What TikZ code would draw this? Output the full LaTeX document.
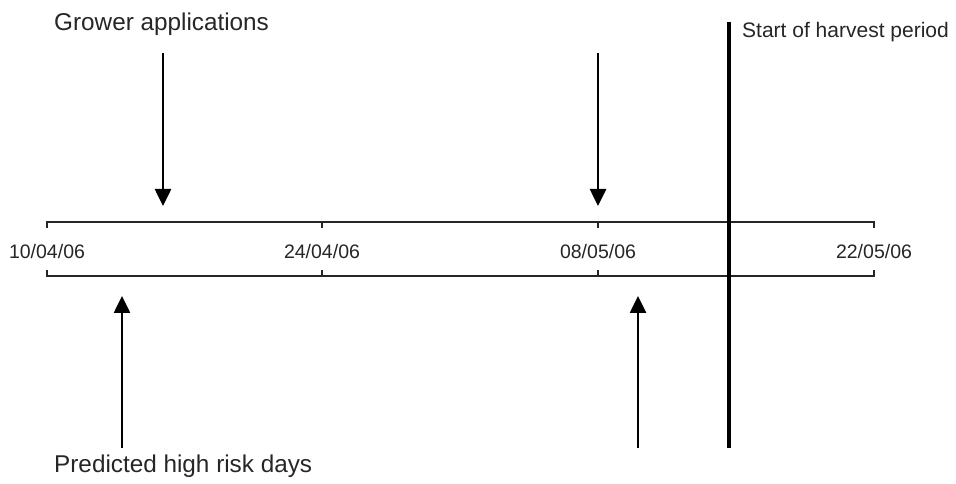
\documentclass[tikz,border=0pt]{standalone}
\usepackage{fontspec}
\setmainfont{Liberation Sans}
\usetikzlibrary{arrows.meta}
\begin{document}
\begin{tikzpicture}[x=1bp,y=-1bp,
  axis/.style={line width=1.4bp, draw=black!85},
  pointer/.style={line width=2.6bp, -{Triangle[length=17bp,width=16bp]}},
  harvest/.style={line width=3.4bp},
  datelbl/.style={inner sep=0pt, font=\fontsize{19.5bp}{22bp}\selectfont, text=black!85},
  biglbl/.style={inner sep=0pt, anchor=west, font=\fontsize{24.3bp}{28bp}\selectfont, text=black!85},
  harvlbl/.style={inner sep=0pt, anchor=west, font=\fontsize{21bp}{24bp}\selectfont, text=black!85}]
\useasboundingbox (0,0) rectangle (956,484);

% timeline: two parallel rules with inward ticks
\coordinate (t0) at (47,222);  \coordinate (t3) at (874,222);
\coordinate (b0) at (47,276);  \coordinate (b3) at (874,276);
\draw[axis] (47,228) -- (t0) -- (t3) -- (874,228);
\draw[axis] (47,270) -- (b0) -- (b3) -- (874,270);
\foreach \x in {322,598} {
  \draw[axis] (\x,222) -- (\x,228);
  \draw[axis] (\x,276) -- (\x,270);
}

% dates
\node[datelbl] (d1) at (47,252) {10/04/06};
\node[datelbl] (d2) at (322,252) {24/04/06};
\node[datelbl] (d3) at (598,252) {08/05/06};
\node[datelbl] (d4) at (874,252) {22/05/06};

% grower applications
\node[biglbl] (grow) at (54,24) {Grower applications};
\coordinate (g1s) at (163,53);  \coordinate (g1e) at (163,206);
\coordinate (g2s) at (598,53);  \coordinate (g2e) at (598,206);
\draw[pointer] (g1s) -- (g1e);
\draw[pointer] (g2s) -- (g2e);

% predicted high risk days
\node[biglbl] (risk) at (54,466) {Predicted high risk days};
\coordinate (r1s) at (122,448); \coordinate (r1e) at (122,296);
\coordinate (r2s) at (638,448); \coordinate (r2e) at (638,296);
\draw[pointer] (r1s) -- (r1e);
\draw[pointer] (r2s) -- (r2e);

% start of harvest
\coordinate (hs) at (729,22); \coordinate (he) at (729,448);
\draw[harvest] (hs) -- (he);
\node[harvlbl] (harv) at (742,32) {Start of harvest period};
\end{tikzpicture}
\end{document}
